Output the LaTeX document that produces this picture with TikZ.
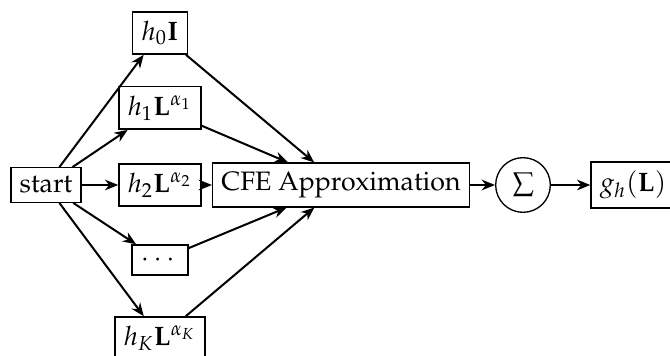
\documentclass[tikz,border=0pt]{standalone}
\usepackage[T1]{fontenc}
\usepackage{mathpazo}
\usepackage{amsmath}
\usetikzlibrary{arrows.meta}

\tikzset{every picture/.style={line width=0.75pt}}
\tikzset{
  termbox/.style={draw, line width=0.5pt, inner sep=3.33pt},
  sumnode/.style={draw, circle, line width=0.5pt, minimum size=20.5pt, inner sep=0pt},
  flow/.style={-{Stealth[length=5pt,width=4pt]}, line width=0.75pt}
}

\begin{document}
\begin{tikzpicture}[x=0.375pt,y=0.375pt,yscale=-1,xscale=1]
\useasboundingbox (0,0) rectangle (670,356);

%Boxes
\node[termbox] (start) at (46,185) {start};
\node[termbox] (h0) at (160,33) {$h_0\mathbf{I}$};
\node[termbox] (h1) at (160,108) {$h_1\mathbf{L}^{\alpha_1}$};
\node[termbox] (h2) at (160,185) {$h_2\mathbf{L}^{\alpha_2}$};
\node[termbox] (dots) at (160,260) {$\cdots$};
\node[termbox] (hK) at (160,338) {$h_K\mathbf{L}^{\alpha_K}$};
\node[termbox] (cfe) at (341,185) {CFE Approximation};
\node[sumnode] (sum) at (523,185) {$\sum$};
\node[termbox] (gh) at (633,185) {$g_h(\mathbf{L})$};

%Fan out
\draw[flow] (start) -- (h0);
\draw[flow] (start) -- (h1);
\draw[flow] (start) -- (h2);
\draw[flow] (start) -- (dots);
\draw[flow] (start) -- (hK);
%Fan in
\draw[flow] (h0) -- (cfe);
\draw[flow] (h1) -- (cfe);
\draw[flow] (h2) -- (cfe);
\draw[flow] (dots) -- (cfe);
\draw[flow] (hK) -- (cfe);
%Output
\draw[flow] (cfe) -- (sum);
\draw[flow] (sum) -- (gh);

\end{tikzpicture}
\end{document}
